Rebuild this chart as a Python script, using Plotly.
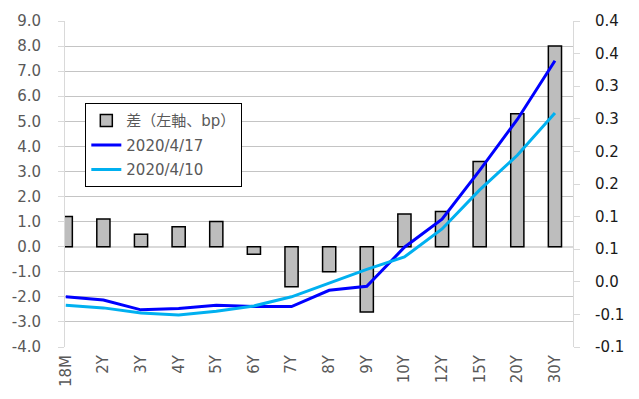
import plotly.graph_objects as go

categories = ["18M", "2Y", "3Y", "4Y", "5Y", "6Y", "7Y", "8Y", "9Y", "10Y", "12Y", "15Y", "20Y", "30Y"]
diff_bp = [1.2, 1.1, 0.5, 0.8, 1.0, -0.3, -1.6, -1.0, -2.6, 1.3, 1.4, 3.4, 5.3, 8.0]
yield_0417 = [-0.023, -0.028, -0.043, -0.041, -0.036, -0.038, -0.038, -0.013, -0.007, 0.053, 0.096, 0.171, 0.249, 0.339]
yield_0410 = [-0.036, -0.040, -0.048, -0.051, -0.045, -0.037, -0.023, -0.002, 0.019, 0.038, 0.081, 0.141, 0.194, 0.259]

left_tickvals = [-4, -3, -2, -1, 0, 1, 2, 3, 4, 5, 6, 7, 8, 9]
left_ticktext = ["-4.0", "-3.0", "-2.0", "-1.0", "0.0", "1.0", "2.0", "3.0", "4.0", "5.0", "6.0", "7.0", "8.0", "9.0"]
right_tickvals = [-0.1, -0.05, 0.0, 0.05, 0.1, 0.15, 0.2, 0.25, 0.3, 0.35, 0.4]
right_ticktext = ["-0.1", "-0.1", "0.0", "0.1", "0.1", "0.2", "0.2", "0.3", "0.3", "0.4", "0.4"]

FONT = "DejaVu Sans, Verdana, Noto Sans CJK JP, sans-serif"

fig = go.Figure()
fig.add_trace(go.Bar(
    x=categories, y=diff_bp, name="差（左軸、bp）", width=0.35,
    marker=dict(color="#bdbdbd", line=dict(color="#000000", width=1.5)),
    yaxis="y", legendgroup="a",
))
fig.add_trace(go.Scatter(
    x=categories, y=yield_0417, name="2020/4/17", mode="lines",
    line=dict(color="#0000ff", width=3), yaxis="y2", legendgroup="b",
))
fig.add_trace(go.Scatter(
    x=categories, y=yield_0410, name="2020/4/10", mode="lines",
    line=dict(color="#00b0f0", width=3), yaxis="y2", legendgroup="c",
))

fig.update_layout(
    width=639, height=399,
    margin=dict(l=63, r=66, t=18, b=49),
    paper_bgcolor="white", plot_bgcolor="white",
    font=dict(family=FONT, size=15, color="#595959"),
    showlegend=True,
    legend=dict(
        x=0.04, y=0.748, xanchor="left", yanchor="top",
        bordercolor="#000000", borderwidth=1, bgcolor="white",
        font=dict(size=15, color="#595959"),
        tracegroupgap=2, traceorder="grouped",
    ),
    xaxis=dict(
        type="category", range=[-0.02, 13.48],
        tickangle=-90, showgrid=False, showline=False, ticks="",
        tickfont=dict(size=15, color="#595959"),
        ticklabelstandoff=4,
    ),
    yaxis=dict(
        range=[-4, 9], tickvals=left_tickvals, ticktext=left_ticktext,
        showgrid=True, gridcolor="#c4c4c4", gridwidth=1,
        zeroline=True, zerolinecolor="#d9d9d9", zerolinewidth=1.5,
        showline=True, linecolor="#d9d9d9", linewidth=1,
        ticks="outside", ticklen=6, tickcolor="#d9d9d9",
        tickfont=dict(size=15, color="#595959"),
        ticklabelstandoff=14,
    ),
    yaxis2=dict(
        range=[-0.1, 0.4], overlaying="y", side="right",
        tickvals=right_tickvals, ticktext=right_ticktext,
        showgrid=False, zeroline=False,
        showline=True, linecolor="#d9d9d9", linewidth=1,
        ticks="outside", ticklen=6, tickcolor="#d9d9d9",
        tickfont=dict(size=15, color="#1a1a1a"),
        ticklabelstandoff=12,
    ),
    bargap=0.6,
)

fig.write_html("out.html")
